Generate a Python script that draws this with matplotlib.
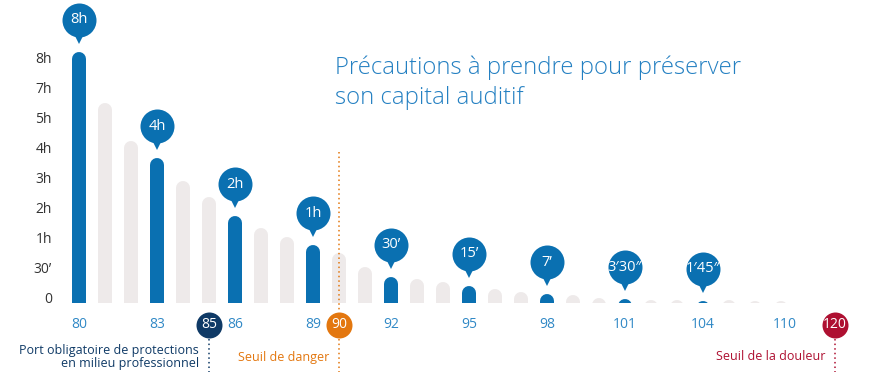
import matplotlib
matplotlib.use("Agg")
import matplotlib.pyplot as plt
from matplotlib.patches import Rectangle

plt.rcParams["font.family"] = ["Open Sans", "DejaVu Sans"]

# ------------------------------------------------------------------
#   DATA
# ------------------------------------------------------------------
levels = list(range(80, 108))                      # dB, one bar each
heights = [8.37, 6.67, 5.40, 4.83, 4.07, 3.53, 2.90, 2.50, 2.20, 1.93,
           1.67, 1.20, 0.87, 0.80, 0.70, 0.57, 0.47, 0.37, 0.30, 0.27,
           0.17, 0.13, 0.10, 0.10, 0.08, 0.10, 0.08, 0.07]
highlight_levels = [80, 83, 86, 89, 92, 95, 98, 101, 104]
bubble_labels = ["8h", "4h", "2h", "1h", "30\u2019", "15\u2019", "7\u2019",
                 "3\u203230\u2033", "1\u203245\u2033"]
ytick_labels = ["0", "30\u2019", "1h", "2h", "3h", "4h", "5h", "7h", "8h"]
xtick_levels = [80, 83, 86, 89, 92, 95, 98, 101, 104]
extra_label = "110"
thresholds = [85, 90, 120]
threshold_texts = ["Port obligatoire de protections\nen milieu professionnel",
                   "Seuil de danger", "Seuil de la douleur"]

# colours
BLUE = "#0A70B1"
LIGHT = "#EEEAEA"
TICK_BLUE = "#3189C6"
TITLE_BLUE = "#2480C2"
NAVY = "#0F3A66"
ORANGE = "#E3770F"
CRIMSON = "#AE1031"

# pixel geometry: bar step 26 px, 30 px per y unit, baseline at 303 px
W, H = 870, 372
STEP, YU, X0, BASE = 26.0, 30.0, 79.0, 303.0


def px_x(p):
    return (p - X0) / STEP


def px_y(p):
    return (BASE - p) / YU


fig = plt.figure(figsize=(W / 100, H / 100), dpi=100)
ax = fig.add_axes([0, 0, 1, 1])
ax.set_xlim(px_x(0), px_x(W))
ax.set_ylim(px_y(H), px_y(0))
ax.axis("off")

clip = Rectangle((-10, 0), 60, 20, transform=ax.transData)
bar_w_pt = 14 * 0.72
r = 7 / YU

# bars with rounded tops
for lv, h in zip(levels, heights):
    x = lv - 80
    col = BLUE if lv in highlight_levels else LIGHT
    ln, = ax.plot([x, x], [-1, h - r], color=col, lw=bar_w_pt,
                  solid_capstyle="round", zorder=2)
    ln.set_clip_path(clip)

# callout bubbles
for lv, lab in zip(highlight_levels, bubble_labels):
    x = lv - 80
    h = heights[levels.index(lv)]
    cy = h + 32 / YU
    ax.plot(x, cy - 17 / YU, marker="v", markersize=14 * 0.72,
            color=BLUE, mew=0, zorder=4)
    ax.plot(x, cy, marker="o", markersize=34 * 0.72, color=BLUE,
            mew=0, zorder=4)
    ax.text(x, cy, lab, color="white", ha="center", va="center",
            fontsize=10.5, zorder=5)

# y labels
for i, lab in enumerate(ytick_labels):
    ax.text(px_x(52), i + 0.13, lab, ha="right", va="center",
            fontsize=10, color="#333333")

# x labels
ylab = px_y(325)
for lv in xtick_levels:
    ax.text(lv - 80, ylab, str(lv), ha="center", va="center",
            fontsize=10, color=TICK_BLUE)
ax.text(px_x(785), ylab, extra_label, ha="center", va="center",
        fontsize=10, color=TICK_BLUE)

# threshold circles, dotted guides and notes
th_x = [px_x(209), 10, px_x(835)]
th_col = [NAVY, ORANGE, CRIMSON]
for lv, x, col, note in zip(thresholds, th_x, th_col, threshold_texts):
    ax.plot(x, ylab, marker="o", markersize=26 * 0.72, color=col, mew=0,
            zorder=4)
    ax.text(x, ylab, str(lv), color="white", ha="center", va="center",
            fontsize=10, zorder=5)
    ax.plot([x, x], [px_y(339), px_y(372)], color=col, lw=1.1,
            linestyle=(0, (1, 2)))
    ax.text(x - 10 / STEP, px_y(357), note, color=col, ha="right",
            va="center", fontsize=9, linespacing=1.0,
            multialignment="right")

# danger line through the bars
ax.plot([10, 10], [px_y(152), px_y(311)], color=ORANGE, lw=1.1,
        linestyle=(0, (1, 2)), zorder=3)

# title
ax.text(px_x(335), px_y(74), "Pr\u00e9cautions \u00e0 prendre pour pr\u00e9server",
        color=TITLE_BLUE, fontsize=17.2, fontweight="light", va="baseline")
ax.text(px_x(335), px_y(104), "son capital auditif",
        color=TITLE_BLUE, fontsize=17.2, fontweight="light", va="baseline")

fig.savefig("out.png", dpi=100)
